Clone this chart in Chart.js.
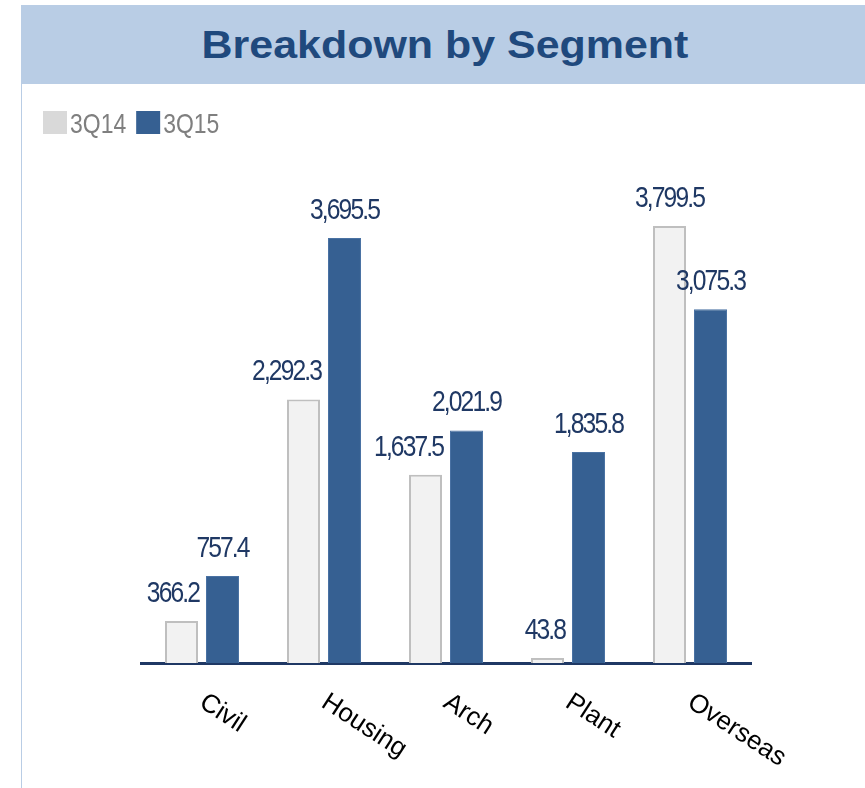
<!DOCTYPE html>
<html>
<head>
<meta charset="utf-8">
<script src="https://cdn.jsdelivr.net/npm/chart.js@4.4.0/dist/chart.umd.min.js"></script>
<style>
html,body{margin:0;padding:0;background:#fff;width:865px;height:788px;overflow:hidden;}
#wrap{position:relative;width:865px;height:788px;}
#header{position:absolute;left:21px;top:5px;width:844px;height:79px;background:#B9CDE5;}
#title{position:absolute;left:2px;right:-2px;top:21px;text-align:center;font:bold 38px "Liberation Sans",Arial,sans-serif;line-height:38px;color:#1F497D;transform:scaleX(1.13);white-space:nowrap;}
#vline{position:absolute;left:21px;top:84px;width:1px;height:704px;background:#B9CDE5;}
canvas{position:absolute;left:0;top:0;}
</style>
</head>
<body>
<div id="wrap">
  <div id="header"><div id="title">Breakdown by Segment</div></div>
  <div id="vline"></div>
  <canvas id="c" width="865" height="788" style="width:865px;height:788px"></canvas>
</div>
<script>
const categories = ['Civil', 'Housing', 'Arch', 'Plant', 'Overseas'];
const seriesNames = ['3Q14', '3Q15'];
const values3Q14 = [366.2, 2292.3, 1637.5, 43.8, 3799.5];
const values3Q15 = [757.4, 3695.5, 2021.9, 1835.8, 3075.3];

const fmt = v => v.toLocaleString('en-US', {minimumFractionDigits: 1, maximumFractionDigits: 1});

const legendColors = ['#D9D9D9', '#366092'];

const overlay = {
  id: 'overlay',
  afterDraw(chart) {
    const ctx = chart.ctx;
    const LABEL_FONT = '30px "Liberation Sans", Arial, sans-serif';
    const SX = 0.82;
    // value labels
    chart.data.datasets.forEach((ds, i) => {
      const meta = chart.getDatasetMeta(i);
      meta.data.forEach((bar, j) => {
        const txt = fmt(ds.data[j]);
        const y = bar.y - 19;
        ctx.save();
        ctx.font = LABEL_FONT;
        try { ctx.letterSpacing = '-2.3px'; } catch (e) {}
        const w = ctx.measureText(txt).width * SX;
        let cx = bar.x;
        // keep first-series labels clear of a taller neighbouring bar
        if (i === 0) {
          const nb = chart.getDatasetMeta(1).data[j];
          const nLeft = nb.x - nb.width / 2;
          if (nb.y < y && cx + w / 2 > nLeft - 7) cx = nLeft - 7 - w / 2;
        }
        ctx.translate(cx, y);
        ctx.scale(SX, 1);
        ctx.textAlign = 'center';
        ctx.textBaseline = 'alphabetic';
        ctx.fillStyle = '#1F3864';
        ctx.fillText(txt, 0, 0);
        ctx.restore();
      });
    });
    // category labels (rotated downward)
    const xs = chart.scales.x;
    chart.data.labels.forEach((lab, i) => {
      const x = xs.getPixelForTick(i);
      ctx.save();
      ctx.translate(x - 4, 706);
      ctx.rotate(33 * Math.PI / 180);
      ctx.font = '26px "Liberation Sans", Arial, sans-serif';
      ctx.fillStyle = '#000000';
      ctx.textAlign = 'left';
      ctx.textBaseline = 'alphabetic';
      ctx.fillText(lab, 0, 0);
      ctx.restore();
    });
    // legend
    let lx = 43;
    seriesNames.forEach((name, i) => {
      ctx.save();
      ctx.fillStyle = legendColors[i];
      ctx.fillRect(lx, 111, 24, 23);
      ctx.translate(lx + 27, 133);
      ctx.scale(0.82, 1);
      ctx.font = '28px "Liberation Sans", Arial, sans-serif';
      ctx.fillStyle = '#7F7F7F';
      ctx.textAlign = 'left';
      ctx.textBaseline = 'alphabetic';
      ctx.fillText(name, 0, 0);
      const w = ctx.measureText(name).width * 0.82;
      ctx.restore();
      lx += 27 + w + 10;
    });
  }
};

new Chart(document.getElementById('c'), {
  type: 'bar',
  data: {
    labels: categories,
    datasets: [
      {label: seriesNames[0], data: values3Q14, backgroundColor: '#F2F2F2', borderColor: '#BFBFBF', borderWidth: 2, borderSkipped: 'start'},
      {label: seriesNames[1], data: values3Q15, backgroundColor: '#366092', borderColor: '#4A72A3', borderWidth: 1, borderSkipped: 'start'}
    ]
  },
  options: {
    responsive: false,
    animation: false,
    devicePixelRatio: 1,
    layout: {padding: {left: 141, right: 114, top: 203, bottom: 125}},
    datasets: {bar: {categoryPercentage: 0.672, barPercentage: 0.805}},
    plugins: {legend: {display: false}, tooltip: {enabled: false}, title: {display: false}},
    scales: {
      x: {
        grid: {display: false, drawTicks: false},
        ticks: {display: false},
        border: {display: true, color: '#1F3864', width: 3}
      },
      y: {display: false, min: 0, max: 4000}
    }
  },
  plugins: [overlay]
});
</script>
</body>
</html>
